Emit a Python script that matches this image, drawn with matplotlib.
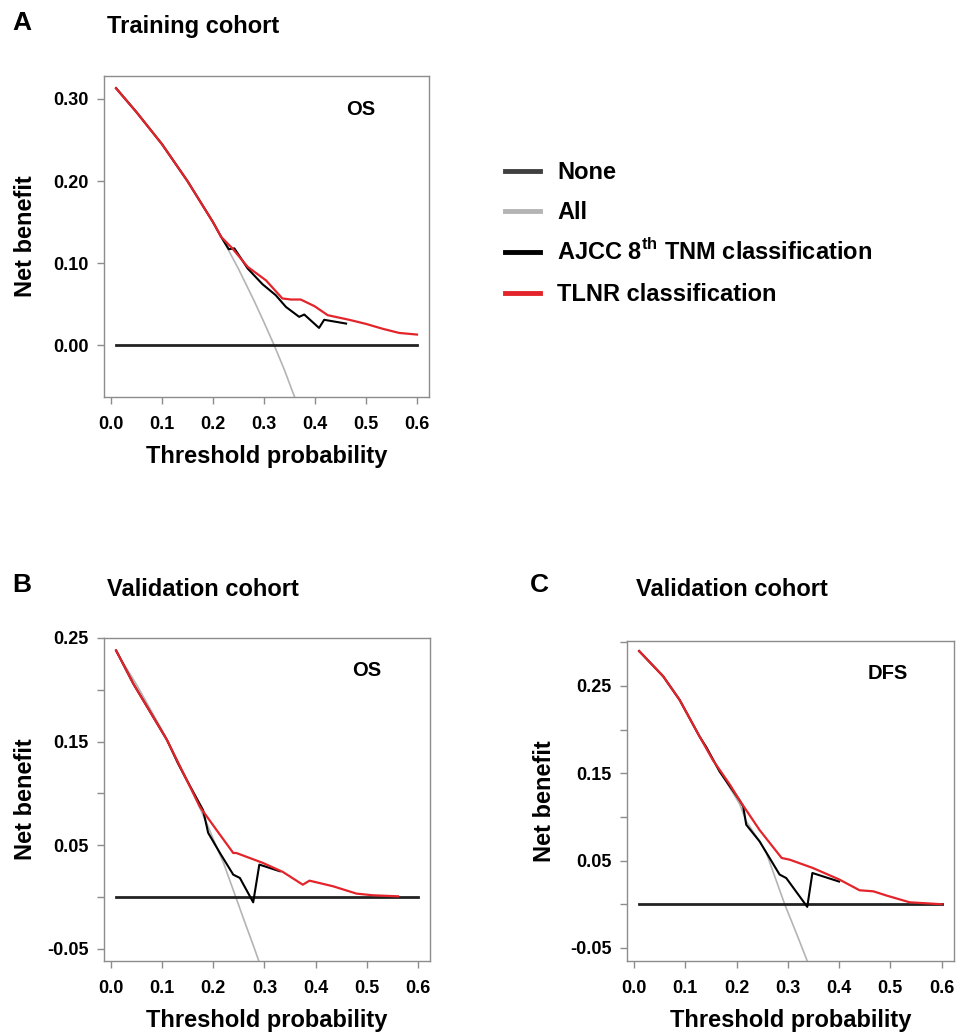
import matplotlib
matplotlib.use("Agg")
import matplotlib.pyplot as plt
from matplotlib.lines import Line2D

plt.rcParams['font.family'] = ['Liberation Sans', 'DejaVu Sans']
plt.rcParams['font.weight'] = 'bold'
plt.rcParams['mathtext.fontset'] = 'custom'
plt.rcParams['mathtext.rm'] = 'Liberation Sans:bold'
plt.rcParams['mathtext.bf'] = 'Liberation Sans:bold'

RED = '#e3242b'
GRAY_ALL = '#b4b4b4'
NONE_COL = '#222222'
AXIS_COL = '#8c8c8c'

# ---- panel A: training cohort, OS ----
a_none_x = [0.01, 0.60]
a_none_y = [0.0, 0.0]
a_all_x = [0.01, 0.05, 0.10, 0.15, 0.20, 0.22, 0.25, 0.28, 0.30, 0.32, 0.34, 0.36]
a_all_y = [0.314, 0.284, 0.245, 0.200, 0.150, 0.128, 0.093, 0.055, 0.028, 0.0, -0.030, -0.063]
a_ajcc_x = [0.01, 0.05, 0.10, 0.15, 0.20, 0.216, 0.231, 0.242, 0.268, 0.297, 0.323, 0.343,
            0.369, 0.379, 0.408, 0.418, 0.461]
a_ajcc_y = [0.313, 0.284, 0.245, 0.200, 0.150, 0.132, 0.117, 0.118, 0.0935, 0.0744, 0.061,
            0.0467, 0.0346, 0.0374, 0.0211, 0.031, 0.0264]
a_tlnr_x = [0.01, 0.05, 0.10, 0.15, 0.20, 0.216, 0.238, 0.268, 0.304, 0.336, 0.353, 0.372,
            0.399, 0.425, 0.467, 0.50, 0.533, 0.565, 0.60]
a_tlnr_y = [0.313, 0.284, 0.245, 0.200, 0.150, 0.132, 0.118, 0.0955, 0.079, 0.057, 0.0557,
            0.0557, 0.0476, 0.0366, 0.031, 0.026, 0.020, 0.015, 0.013]

# ---- panel B: validation cohort, OS ----
b_none_x = [0.01, 0.60]
b_none_y = [0.0, 0.0]
b_all_x = [0.01, 0.05, 0.10, 0.15, 0.187, 0.20, 0.22, 0.244, 0.26, 0.28, 0.29]
b_all_y = [0.237, 0.205, 0.161, 0.112, 0.0715, 0.056, 0.033, 0.0, -0.022, -0.049, -0.063]
b_ajcc_x = [0.01, 0.0435, 0.109, 0.112, 0.131, 0.148, 0.18, 0.19, 0.213, 0.239, 0.252,
            0.278, 0.29, 0.33]
b_ajcc_y = [0.238, 0.206, 0.152, 0.149, 0.129, 0.113, 0.084, 0.062, 0.0426, 0.0217, 0.0185,
            -0.005, 0.0314, 0.025]
b_tlnr_x = [0.01, 0.0435, 0.109, 0.148, 0.174, 0.206, 0.239, 0.245, 0.297, 0.336, 0.375,
            0.388, 0.434, 0.48, 0.512, 0.561]
b_tlnr_y = [0.238, 0.206, 0.152, 0.113, 0.087, 0.065, 0.0426, 0.0426, 0.033, 0.0243,
            0.012, 0.0159, 0.0105, 0.0034, 0.0018, 0.0008]

# ---- panel C: validation cohort, DFS ----
c_none_x = [0.01, 0.60]
c_none_y = [0.0, 0.0]
c_all_x = [0.01, 0.057, 0.089, 0.128, 0.154, 0.206, 0.219, 0.245, 0.258, 0.28, 0.294,
           0.32, 0.338]
c_all_y = [0.290, 0.261, 0.234, 0.192, 0.165, 0.115, 0.095, 0.072, 0.059, 0.023, 0.0,
           -0.038, -0.065]
c_ajcc_x = [0.01, 0.057, 0.089, 0.128, 0.141, 0.167, 0.206, 0.213, 0.219, 0.245, 0.284,
            0.297, 0.338, 0.348, 0.40]
c_ajcc_y = [0.290, 0.261, 0.234, 0.192, 0.180, 0.152, 0.119, 0.112, 0.091, 0.072, 0.034,
            0.030, -0.003, 0.0358, 0.026]
c_tlnr_x = [0.01, 0.057, 0.089, 0.128, 0.154, 0.187, 0.206, 0.245, 0.288, 0.304, 0.349,
            0.401, 0.44, 0.467, 0.493, 0.538, 0.60]
c_tlnr_y = [0.290, 0.261, 0.234, 0.192, 0.165, 0.137, 0.119, 0.085, 0.053, 0.051, 0.0415,
            0.0282, 0.016, 0.0148, 0.0099, 0.0022, 0.0]

x_ticks = [0.0, 0.1, 0.2, 0.3, 0.4, 0.5, 0.6]
x_ticklabels = ['0.0', '0.1', '0.2', '0.3', '0.4', '0.5', '0.6']

W, H = 957, 1034
fig = plt.figure(figsize=(W / 100, H / 100), dpi=100)


def draw_panel(rect, none, all_, ajcc, tlnr, ylim, yticks, yticklabels, tag, tag_xy, ylab_x):
    ax = fig.add_axes(rect)
    ax.plot(all_[0], all_[1], color=GRAY_ALL, lw=1.2, zorder=2)
    ax.plot(none[0], none[1], color=NONE_COL, lw=2.0, zorder=3)
    ax.plot(ajcc[0], ajcc[1], color='black', lw=1.5, zorder=4)
    ax.plot(tlnr[0], tlnr[1], color=RED, lw=1.6, zorder=5)
    ax.set_xlim(-0.0136, 0.6236)
    ax.set_ylim(*ylim)
    ax.set_xticks(x_ticks)
    ax.set_xticklabels(x_ticklabels)
    ax.set_yticks(yticks)
    ax.set_yticklabels(yticklabels)
    for s in ax.spines.values():
        s.set_color(AXIS_COL)
        s.set_linewidth(1.0)
    ax.tick_params(direction='out', length=5, width=1.0, color=AXIS_COL, labelsize=13)
    ax.tick_params(axis='x', pad=9)
    ax.tick_params(axis='y', pad=6)
    ax.set_xlabel('Threshold probability', fontsize=17, fontweight='bold')
    ax.set_ylabel('Net benefit', fontsize=17, fontweight='bold')
    ax.xaxis.set_label_coords(0.5, -0.15)
    ax.yaxis.set_label_coords(ylab_x, 0.5)
    ax.text(tag_xy[0], tag_xy[1], tag, fontsize=14.5, fontweight='bold',
            ha='center', va='center')
    return ax


draw_panel([0.1087, 0.6161, 0.3396, 0.3104],
           (a_none_x, a_none_y), (a_all_x, a_all_y), (a_ajcc_x, a_ajcc_y),
           (a_tlnr_x, a_tlnr_y),
           (-0.063, 0.328), [0.0, 0.1, 0.2, 0.3], ['0.00', '0.10', '0.20', '0.30'],
           'OS', (0.49, 0.287), -0.207)

draw_panel([0.1087, 0.0706, 0.3406, 0.3124],
           (b_none_x, b_none_y), (b_all_x, b_all_y), (b_ajcc_x, b_ajcc_y),
           (b_tlnr_x, b_tlnr_y),
           (-0.0616, 0.25), [-0.05, 0.0, 0.05, 0.10, 0.15, 0.20, 0.25],
           ['-0.05', '', '0.05', '', '0.15', '', '0.25'],
           'OS', (0.499, 0.219), -0.207)

draw_panel([0.6552, 0.0706, 0.3413, 0.3095],
           (c_none_x, c_none_y), (c_all_x, c_all_y), (c_ajcc_x, c_ajcc_y),
           (c_tlnr_x, c_tlnr_y),
           (-0.065, 0.3015), [-0.05, 0.0, 0.05, 0.10, 0.15, 0.20, 0.25, 0.30],
           ['-0.05', '', '0.05', '', '0.15', '', '0.25', ''],
           'DFS', (0.496, 0.264), -0.218)

# panel letters and titles
fig.text(12 / W, 1 - 23 / H, 'A', fontsize=19, fontweight='bold', va='center')
fig.text(107 / W, 1 - 27 / H, 'Training cohort', fontsize=17, fontweight='bold', va='center')
fig.text(12 / W, 1 - 585 / H, 'B', fontsize=19, fontweight='bold', va='center')
fig.text(107 / W, 1 - 590 / H, 'Validation cohort', fontsize=17, fontweight='bold', va='center')
fig.text(530 / W, 1 - 585 / H, 'C', fontsize=19, fontweight='bold', va='center')
fig.text(636 / W, 1 - 590 / H, 'Validation cohort', fontsize=17, fontweight='bold', va='center')

# legend, drawn by hand in figure pixels
leg_labels = ['None', 'All', 'AJCC 8$^{\\mathrm{th}}$ TNM classification', 'TLNR classification']
leg_colors = ['#404040', GRAY_ALL, 'black', RED]
leg_rows = [170.7, 211, 251.7, 293.3]
for lab, col, yy in zip(leg_labels, leg_colors, leg_rows):
    fig.add_artist(Line2D([505 / W, 540 / W], [1 - yy / H, 1 - yy / H], color=col, lw=3.5,
                          transform=fig.transFigure))
    fig.text(557 / W, 1 - (yy + 8) / H, lab, fontsize=17, fontweight='bold', va='baseline')

fig.savefig('out.png', dpi=100)
